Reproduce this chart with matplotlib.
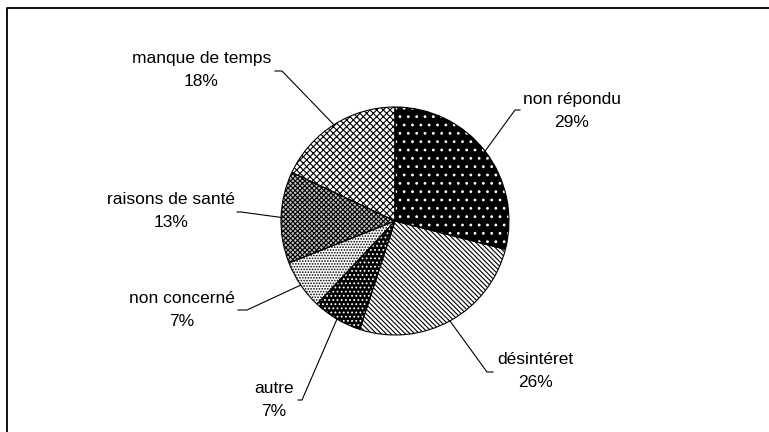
import numpy as np
import matplotlib.pyplot as plt

# data
labels = ["non répondu", "désintéret", "autre", "non concerné",
          "raisons de santé", "manque de temps"]
values = [29, 26, 7, 7, 13, 18]

# fill styles: face colour, hatch colour, hatch
faces = ["black", "white", "black", "white", "#c4c4c4", "white"]
hatch_cols = ["white", "black", "white", "black", "black", "black"]
hatches = ["..", "\\" * 7, "....", "......", "xxxxxxx", "xxxxx"]

# label layout (pixels, y down): elbow start, elbow end, text anchor, ha
elbows = [(515, 110), (487, 372), (302, 400), (247, 310), (241, 212), (282, 71)]
ends = [(520, 110), (493, 372), (298, 400), (238, 310), (237, 212), (275, 71)]
text_pos = [(523, 111), (497, 371), (294, 400), (235, 310), (235, 211), (271, 70)]
text_ha = ["left", "left", "right", "right", "right", "right"]

W, H = 769, 432
cx, cy, r = 395, 221, 114

plt.rcParams['font.family'] = ['Liberation Sans', 'DejaVu Sans']
plt.rcParams['hatch.linewidth'] = 0.8

fig = plt.figure(figsize=(W / 100, H / 100), dpi=100)
ax = fig.add_axes([0, 0, 1, 1])

def Y(y):
    return H - y

wedges, _ = ax.pie(values, center=(cx, Y(cy)), radius=r, startangle=90,
                   counterclock=False, frame=True)
for w, fc, hc, h in zip(wedges, faces, hatch_cols, hatches):
    w.set_facecolor(fc)
    w.set_edgecolor(hc)
    w.set_hatch(h)
    w.set_linewidth(0)

# outlines on top
ax.pie(values, center=(cx, Y(cy)), radius=r, startangle=90,
       counterclock=False, frame=True,
       wedgeprops=dict(fill=False, edgecolor='black', linewidth=0.8))
ax.set_xlim(0, W)
ax.set_ylim(0, H)
ax.axis('off')

for w, lab, v, e, en, tp, ha in zip(wedges, labels, values, elbows, ends,
                                    text_pos, text_ha):
    ang = np.deg2rad((w.theta1 + w.theta2) / 2)
    ex = cx + r * np.cos(ang)
    ey = Y(cy) + r * np.sin(ang)
    ax.plot([ex, e[0], en[0]], [ey, Y(e[1]), Y(en[1])], color='black', lw=0.8)
    ax.text(tp[0], Y(tp[1]), f"{lab}\n{v}%", ha=ha, va='center',
            multialignment='center', fontsize=12.5, linespacing=1.6)

# frame of the chart area (left and top only)
ax.plot([7, 7, W], [0, Y(8), Y(8)], color='black', lw=1.3)

fig.savefig("out.png", dpi=100)
